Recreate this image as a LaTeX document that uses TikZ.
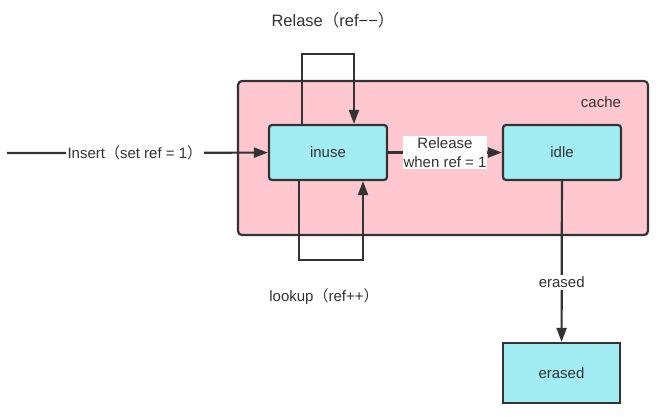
\documentclass[tikz,border=0pt]{standalone}
\usepackage{fontspec}
\setmainfont{Liberation Sans}
\newfontfamily\cjk{Noto Sans CJK SC}
\usepackage{xcolor}
\usepackage{tikz}
\usetikzlibrary{shapes.geometric, arrows.meta, positioning}
\definecolor{linegray}{HTML}{333333}
\definecolor{cachepink}{HTML}{FFC8D0}
\definecolor{boxcyan}{HTML}{A2ECF3}
\newcommand{\zlp}{{\cjk （}}
\newcommand{\zrp}{{\cjk ）}}
\tikzstyle{cachebox} = [rectangle, rounded corners=4pt, minimum width=410pt, minimum height=154pt, draw=linegray, line width=2.2pt, fill=cachepink]
\tikzstyle{state} = [rectangle, rounded corners=3pt, minimum width=118pt, minimum height=55pt, text centered, draw=linegray, line width=2.2pt, fill=boxcyan, font=\fontsize{15}{18}\selectfont, text=linegray]
\tikzstyle{final} = [rectangle, minimum width=117pt, minimum height=60pt, text centered, draw=linegray, line width=2.2pt, fill=boxcyan, font=\fontsize{15}{18}\selectfont, text=linegray]
\tikzstyle{lbl} = [text=linegray, font=\fontsize{15}{19}\selectfont, inner sep=2pt]
\tikzstyle{arrow} = [line width=2.2pt, draw=linegray, -{Triangle[length=14pt, width=10pt]}]
\begin{document}
\begin{tikzpicture}[x=1pt, y=-1pt]
	\useasboundingbox (0,0) rectangle (672,417);
	\node (cache) [cachebox] at (443,158) {};
	\node (cachelabel) [lbl] at (601,102) {cache};
	\node (inuse) [state] at (328,152.5) {inuse};
	\node (idle) [state] at (562,152.5) {idle};
	\node (erased) [final] at (561.5,373) {erased};
	\coordinate (start) at (7,153);
	\draw [arrow] (start) -- node [lbl, fill=white, pos=0.49] {Insert\zlp set ref = 1\zrp} (inuse);
	\draw [arrow] ([xshift=-26pt]inuse.north) -- ++(0,-70) -| ([xshift=26pt]inuse.north);
	\draw [arrow] ([xshift=-29pt]inuse.south) -- ++(0,79) -| ([xshift=35pt]inuse.south);
	\draw [arrow] (inuse) -- node [lbl, fill=white, align=center, inner sep=1pt] {Release\\when ref = 1} (idle);
	\draw [arrow] (idle) -- node [lbl, fill=white, pos=0.63] {erased} (erased);
	\node (relase) [lbl, font=\fontsize{16.5}{19}\selectfont] at (333,20) {Relase\zlp ref−−\zrp};
	\node (lookup) [lbl] at (324,297) {lookup\zlp ref++\zrp};
\end{tikzpicture}
\end{document}
